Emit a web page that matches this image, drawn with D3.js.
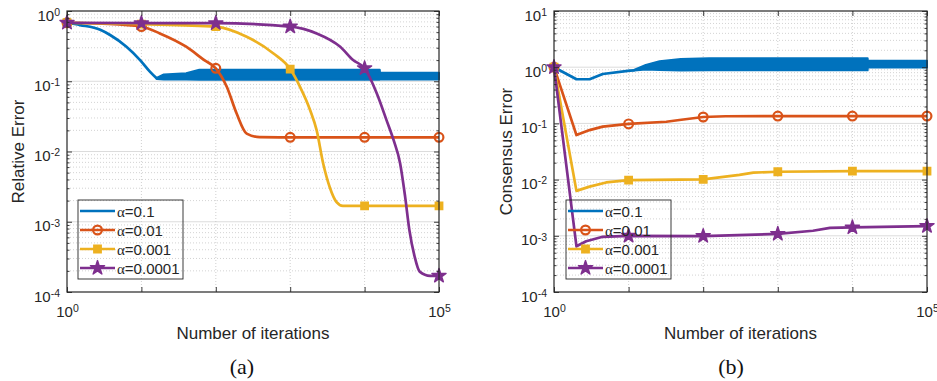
<!DOCTYPE html>
<html>
<head>
<meta charset="utf-8">
<script src="https://cdn.jsdelivr.net/npm/d3@7"></script>
<style>
body { margin: 0; background: #fff; }
svg { display: block; font-family: "Liberation Sans", Arial, sans-serif; }
</style>
</head>
<body>
<svg id="chart" width="937" height="381"></svg>
<script>
var alphaLabels = ["0.1", "0.01", "0.001", "0.0001"];
var seriesColors = ["#0072bd", "#d95319", "#edb120", "#7e2f8e"];
var markerIters = [1, 10, 100, 1000, 10000, 100000];

// (a) relative error
var relBlueIter = [1, 1.5, 2.8, 3.8, 6.3, 9.6, 13, 16];
var relBlueErr = [0.68, 0.63, 0.54, 0.455, 0.31, 0.2, 0.137, 0.11];
var relBlueBandIter = [16, 20, 40, 60, 16000, 16100, 100000];
var relBlueBandHigh = [0.112, 0.125, 0.13, 0.146, 0.146, 0.132, 0.132];
var relBlueBandLow = [0.108, 0.106, 0.106, 0.105, 0.105, 0.106, 0.106];

var relOrangeIter = [1, 3, 10, 17.7, 40, 70, 100, 140, 190, 260, 390, 1000, 10000, 100000];
var relOrangeErr = [0.68, 0.66, 0.6, 0.48, 0.31, 0.2, 0.153, 0.084, 0.035, 0.018, 0.016, 0.0159, 0.0159, 0.0159];

var relYellowIter = [1, 10, 100, 260, 590, 1000, 1350, 1850, 2270, 2770, 3400, 4200, 5100, 10000, 100000];
var relYellowErr = [0.68, 0.65, 0.6, 0.43, 0.25, 0.149, 0.084, 0.039, 0.02, 0.0068, 0.0031, 0.0019, 0.00168, 0.00168, 0.00168];

var relPurpleIter = [1, 10, 100, 1000, 2270, 4700, 7000, 10000, 14600, 19700, 24500, 30000, 35000, 40000, 47000, 55000, 76000, 100000];
var relPurpleErr = [0.68, 0.67, 0.67, 0.6, 0.48, 0.31, 0.2, 0.153, 0.067, 0.028, 0.0146, 0.0068, 0.0023, 0.00076, 0.00032, 0.000195, 0.00017, 0.00017];

// (b) consensus error
var conBlueIter = [1, 2, 3, 4.5, 10.4, 12];
var conBlueErr = [1, 0.61, 0.61, 0.757, 0.867, 0.88];
var conBlueBandIter = [12, 17, 26, 50, 120, 16000, 16100, 100000];
var conBlueBandHigh = [0.9, 1.1, 1.28, 1.4, 1.45, 1.45, 1.3, 1.3];
var conBlueBandLow = [0.87, 0.91, 0.89, 0.87, 0.88, 0.88, 0.99, 0.99];

var conOrangeIter = [1, 2, 3, 4.5, 10, 32, 48, 100, 200, 1000, 10000, 100000];
var conOrangeErr = [1, 0.062, 0.076, 0.0875, 0.098, 0.107, 0.115, 0.13, 0.134, 0.135, 0.135, 0.135];

var conYellowIter = [1, 2, 3, 5, 10, 48, 100, 306, 470, 1000, 10000, 100000];
var conYellowErr = [1, 0.0063, 0.0075, 0.0089, 0.0098, 0.01, 0.0101, 0.0121, 0.0133, 0.0138, 0.0142, 0.0142];

var conPurpleIter = [1, 2, 2.7, 4.5, 10, 100, 1000, 2960, 5000, 10000, 100000];
var conPurpleErr = [1, 0.00065, 0.0008, 0.00096, 0.001, 0.00099, 0.00108, 0.00123, 0.00138, 0.00141, 0.00149];

var svg = d3.select("#chart");
var lineWidth = 2.7;

function zip(iters, vals) {
    return iters.map(function (n, i) { return {n: n, v: vals[i]}; });
}

function zipBand(iters, lo, hi) {
    return iters.map(function (n, i) { return {n: n, lo: lo[i], hi: hi[i]}; });
}

function supLabel(sel, exp) {
    sel.text("10");
    sel.append("tspan").attr("dy", "-0.45em").attr("font-size", "10.5px").text(exp);
}

function drawMarker(g, kind, cx, cy, color) {
    if (kind === "circle") {
        g.append("circle").attr("cx", cx).attr("cy", cy).attr("r", 4.4)
            .attr("fill", "none").attr("stroke", color).attr("stroke-width", 2.2);
    } else if (kind === "square") {
        g.append("path").attr("d", d3.symbol(d3.symbolSquare, 52)())
            .attr("transform", "translate(" + cx + "," + cy + ")")
            .attr("fill", color).attr("stroke", color).attr("stroke-width", 1.6);
    } else if (kind === "star") {
        g.append("path").attr("d", d3.symbol(d3.symbolStar, 62)())
            .attr("transform", "translate(" + cx + "," + cy + ")")
            .attr("fill", color).attr("stroke", color).attr("stroke-width", 1.4)
            .attr("stroke-linejoin", "round");
    }
}

function drawPanel(p) {
    var x = d3.scaleLog().domain([1, 1e5]).range([p.left, p.right]);
    var y = d3.scaleLog().domain([Math.pow(10, p.yMinExp), Math.pow(10, p.yMaxExp)]).range([p.bottom, p.top]);
    var g = svg.append("g");

    var yMajors = d3.range(p.yMinExp, p.yMaxExp + 1).map(function (e) { return Math.pow(10, e); });
    var yMinors = [];
    d3.range(p.yMinExp, p.yMaxExp).forEach(function (e) {
        for (var k = 2; k <= 9; k++) yMinors.push(k * Math.pow(10, e));
    });

    // grid
    var grid = g.append("g");
    grid.selectAll(".yminor").data(yMinors).enter().append("line")
        .attr("x1", p.left).attr("x2", p.right)
        .attr("y1", function (d) { return y(d); }).attr("y2", function (d) { return y(d); })
        .attr("stroke", "#c8c8c8").attr("stroke-width", 0.8).attr("stroke-dasharray", "1,2");
    grid.selectAll(".ymajor").data(yMajors.slice(1, -1)).enter().append("line")
        .attr("x1", p.left).attr("x2", p.right)
        .attr("y1", function (d) { return y(d); }).attr("y2", function (d) { return y(d); })
        .attr("stroke", "#dcdcdc").attr("stroke-width", 1);
    grid.selectAll(".xgrid").data(markerIters.slice(1, -1)).enter().append("line")
        .attr("x1", function (d) { return x(d); }).attr("x2", function (d) { return x(d); })
        .attr("y1", p.top).attr("y2", p.bottom)
        .attr("stroke", "#c4c4c4").attr("stroke-width", 0.8).attr("stroke-dasharray", "1,2");

    // lines
    var line = d3.line().x(function (d) { return x(d.n); }).y(function (d) { return y(d.v); }).curve(p.curve);
    var band = d3.area().x(function (d) { return x(d.n); })
        .y0(function (d) { return y(d.lo); }).y1(function (d) { return y(d.hi); });
    var kinds = [null, "circle", "square", "star"];

    g.append("path").datum(p.band).attr("d", band)
        .attr("fill", seriesColors[0]).attr("stroke", seriesColors[0]).attr("stroke-width", 2)
        .attr("stroke-linejoin", "round");
    p.series.forEach(function (data, i) {
        g.append("path").datum(data).attr("d", line)
            .attr("fill", "none").attr("stroke", seriesColors[i]).attr("stroke-width", lineWidth)
            .attr("stroke-linejoin", "round");
        if (kinds[i]) {
            data.filter(function (d) { return markerIters.indexOf(d.n) >= 0; }).forEach(function (d) {
                drawMarker(g, kinds[i], x(d.n), y(d.v), seriesColors[i]);
            });
        }
    });

    // axes
    var axisColor = "#262626";
    var none = function () { return ""; };
    var ax = g.append("g").attr("font-size", 14.5);
    var yl = ax.append("g").attr("transform", "translate(" + p.left + ",0)")
        .call(d3.axisLeft(y).tickValues(yMajors).tickSize(-5).tickPadding(7).tickFormat(none));
    yl.selectAll(".tick text").attr("dy", "0.6em").attr("font-family", "Liberation Sans, Arial, sans-serif")
        .attr("font-size", 15).attr("fill", axisColor)
        .each(function (d) { supLabel(d3.select(this), String(Math.round(Math.log10(d)))); });
    ax.append("g").attr("transform", "translate(" + p.left + ",0)")
        .call(d3.axisLeft(y).tickValues(yMinors).tickSize(-2.5).tickFormat(none));
    ax.append("g").attr("transform", "translate(" + p.right + ",0)")
        .call(d3.axisRight(y).tickValues(yMajors).tickSize(-5).tickFormat(none));
    ax.append("g").attr("transform", "translate(" + p.right + ",0)")
        .call(d3.axisRight(y).tickValues(yMinors).tickSize(-2.5).tickFormat(none));
    var xb = ax.append("g").attr("transform", "translate(0," + p.bottom + ")")
        .call(d3.axisBottom(x).tickValues(markerIters).tickSize(-5).tickPadding(14).tickFormat(none));
    xb.selectAll(".tick text").attr("font-family", "Liberation Sans, Arial, sans-serif")
        .attr("font-size", 15).attr("fill", axisColor)
        .each(function (d) {
            if (d === 1 || d === 1e5) supLabel(d3.select(this), String(Math.round(Math.log10(d))));
        });
    ax.append("g").attr("transform", "translate(0," + p.top + ")")
        .call(d3.axisTop(x).tickValues(markerIters).tickSize(-5).tickFormat(none));
    ax.selectAll(".domain").remove();
    ax.selectAll(".tick line").attr("stroke", axisColor).attr("stroke-width", 0.9);

    g.append("rect").attr("x", p.left).attr("y", p.top)
        .attr("width", p.right - p.left).attr("height", p.bottom - p.top)
        .attr("fill", "none").attr("stroke", axisColor).attr("stroke-width", 1.2);

    // labels
    g.append("text").attr("x", (p.left + p.right) / 2).attr("y", 339)
        .attr("text-anchor", "middle").attr("font-size", 17).attr("fill", axisColor)
        .text("Number of iterations");
    g.append("text").attr("transform", "translate(" + p.yLabelX + "," + (p.top + p.bottom) / 2 + ")rotate(-90)")
        .attr("text-anchor", "middle").attr("font-size", 17).attr("fill", axisColor)
        .text(p.yLabel);
    g.append("text").attr("x", p.captionX).attr("y", 374)
        .attr("text-anchor", "middle").attr("font-size", 22)
        .attr("font-family", "Liberation Serif, DejaVu Serif, serif").attr("fill", "#111")
        .text(p.caption);

    // legend
    var lg = g.append("g").attr("transform", "translate(" + p.legendX + ",200)");
    lg.append("rect").attr("width", 105).attr("height", 79)
        .attr("fill", "none").attr("stroke", axisColor).attr("stroke-width", 0.9);
    alphaLabels.forEach(function (a, i) {
        var ry = 11 + i * 19;
        lg.append("line").attr("x1", 2).attr("x2", 37).attr("y1", ry).attr("y2", ry)
            .attr("stroke", seriesColors[i]).attr("stroke-width", lineWidth);
        if (kinds[i]) drawMarker(lg, kinds[i], 19.5, ry, seriesColors[i]);
        var t = lg.append("text").attr("x", 39).attr("y", ry + 5.5)
            .attr("font-size", 15).attr("fill", axisColor);
        t.append("tspan").attr("font-family", "Liberation Serif, DejaVu Serif, serif").text("\u03b1");
        t.append("tspan").text("=" + a);
    });
}

drawPanel({
    left: 67, right: 439, top: 11, bottom: 292,
    yMinExp: -4, yMaxExp: 0,
    curve: d3.curveMonotoneX,
    band: zipBand(relBlueBandIter, relBlueBandLow, relBlueBandHigh),
    series: [zip(relBlueIter, relBlueErr), zip(relOrangeIter, relOrangeErr),
             zip(relYellowIter, relYellowErr), zip(relPurpleIter, relPurpleErr)],
    yLabel: "Relative Error", yLabelX: 24,
    caption: "(a)", captionX: 242,
    legendX: 78
});

drawPanel({
    left: 554, right: 927, top: 11, bottom: 292,
    yMinExp: -4, yMaxExp: 1,
    curve: d3.curveLinear,
    band: zipBand(conBlueBandIter, conBlueBandLow, conBlueBandHigh),
    series: [zip(conBlueIter, conBlueErr), zip(conOrangeIter, conOrangeErr),
             zip(conYellowIter, conYellowErr), zip(conPurpleIter, conPurpleErr)],
    yLabel: "Consensus Error", yLabelX: 512,
    caption: "(b)", captionX: 731,
    legendX: 566
});
</script>
</body>
</html>
